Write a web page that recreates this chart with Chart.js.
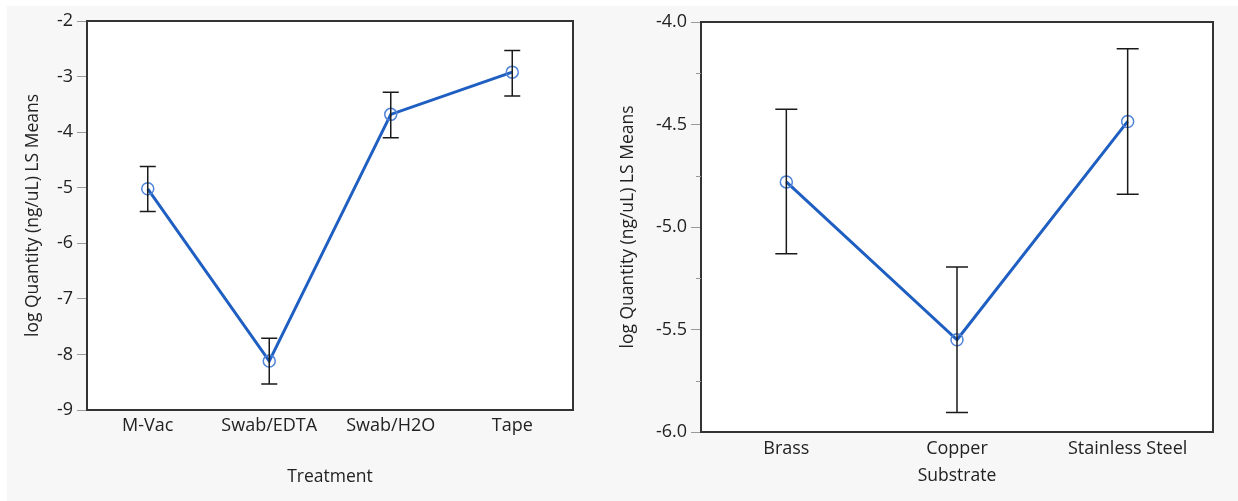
<!DOCTYPE html>
<html>
<head>
<meta charset="utf-8">
<script src="https://cdn.jsdelivr.net/npm/chart.js"></script>
<style>
  html, body { margin: 0; padding: 0; background: #ffffff; }
  body { width: 1238px; height: 501px; position: relative; overflow: hidden; }
  #bg { position: absolute; left: 7px; top: 6px; right: 0; bottom: 0; background: #f7f7f7; }
  .panel { position: absolute; top: 0; height: 501px; }
  #leftPanel { left: 0; width: 612px; }
  #rightPanel { left: 612px; width: 626px; }
</style>
</head>
<body>
<div id="bg"></div>
<div class="panel" id="leftPanel"><canvas id="leftChart"></canvas></div>
<div class="panel" id="rightPanel"><canvas id="rightChart"></canvas></div>
<script>
// Left panel: Treatment
const treatments = ['M-Vac', 'Swab/EDTA', 'Swab/H2O', 'Tape'];
const treatmentMeans = [-5.02, -8.12, -3.68, -2.92];
const treatmentLower = [-5.43, -8.53, -4.10, -3.35];
const treatmentUpper = [-4.62, -7.71, -3.28, -2.53];

// Right panel: Substrate
const substrates = ['Brass', 'Copper', 'Stainless Steel'];
const substrateMeans = [-4.78, -5.55, -4.485];
const substrateLower = [-5.13, -5.905, -4.84];
const substrateUpper = [-4.425, -5.195, -4.13];

const FONT = "'Open Sans', 'Noto Sans', sans-serif";
const TEXT = '#222222';
const LINE_BLUE = '#1f5fc1';
const MARK_BLUE = '#4f83d8';
const TICK_SIZE = 18;
const TITLE_SIZE = 17.5;

Chart.defaults.font.family = FONT;
Chart.defaults.color = TEXT;

// white plot area with a dark frame
const plotFrame = {
    id: 'plotFrame',
    beforeDraw(chart) {
        const { ctx, chartArea: a } = chart;
        ctx.save();
        ctx.fillStyle = '#ffffff';
        ctx.fillRect(a.left, a.top, a.width, a.height);
        ctx.restore();
    },
    afterDraw(chart) {
        const { ctx, chartArea: a } = chart;
        ctx.save();
        ctx.strokeStyle = '#333333';
        ctx.lineWidth = 2;
        ctx.strokeRect(a.left, a.top, a.width, a.height);
        ctx.restore();
    }
};

// error bars, drawn through the scales
const errorBars = {
    id: 'errorBars',
    afterDatasetsDraw(chart, args, opts) {
        const { ctx } = chart;
        const x = chart.scales.x, y = chart.scales.y;
        ctx.save();
        ctx.strokeStyle = '#1a1a1a';
        ctx.lineWidth = 1.5;
        opts.lower.forEach((lo, i) => {
            const px = x.getPixelForValue(i);
            const yLo = y.getPixelForValue(lo);
            const yHi = y.getPixelForValue(opts.upper[i]);
            ctx.beginPath();
            ctx.moveTo(px, yLo);
            ctx.lineTo(px, yHi);
            ctx.moveTo(px - opts.cap, yLo);
            ctx.lineTo(px + opts.cap, yLo);
            ctx.moveTo(px - opts.cap, yHi);
            ctx.lineTo(px + opts.cap, yHi);
            ctx.stroke();
        });
        ctx.restore();
    }
};

// short minor ticks between the labelled ones
const minorTicks = {
    id: 'minorTicks',
    afterDraw(chart, args, opts) {
        if (!opts.every) return;
        const { ctx, chartArea: a } = chart;
        const y = chart.scales.y;
        ctx.save();
        ctx.strokeStyle = '#999999';
        ctx.lineWidth = 1;
        y.ticks.forEach(t => {
            if (isMajor(t.value, opts.every)) return;
            const py = Math.round(y.getPixelForValue(t.value)) + 0.5;
            ctx.beginPath();
            ctx.moveTo(a.left - 5, py);
            ctx.lineTo(a.left, py);
            ctx.stroke();
        });
        ctx.restore();
    }
};

function isMajor(v, every) {
    const r = v / every;
    return Math.abs(r - Math.round(r)) < 1e-6;
}

function makeChart(id, cfg) {
    const el = document.getElementById(id);
    return new Chart(el, {
        type: 'line',
        data: {
            labels: cfg.labels,
            datasets: [{
                data: cfg.means,
                borderColor: LINE_BLUE,
                borderWidth: 3,
                pointStyle: 'circle',
                pointRadius: 6,
                pointBorderWidth: 1.5,
                pointBorderColor: MARK_BLUE,
                pointBackgroundColor: 'rgba(255,255,255,0)',
                tension: 0,
            }]
        },
        plugins: [plotFrame, errorBars, minorTicks],
        options: {
            responsive: true,
            maintainAspectRatio: false,
            animation: false,
            events: [],
            layout: { padding: cfg.padding },
            plugins: {
                legend: { display: false },
                tooltip: { enabled: false },
                errorBars: { lower: cfg.lower, upper: cfg.upper, cap: cfg.cap },
                minorTicks: { every: cfg.majorEvery },
            },
            scales: {
                x: {
                    type: 'category',
                    offset: true,
                    grid: { display: false, drawTicks: false },
                    border: { display: false },
                    ticks: { font: { size: TICK_SIZE }, color: TEXT, padding: cfg.xTickPad, maxRotation: 0, autoSkip: false },
                    title: { display: true, text: cfg.xTitle, font: { size: TITLE_SIZE }, color: TEXT, padding: { top: 0, bottom: cfg.xTitlePad } },
                    afterFit: s => { s.height = cfg.xHeight; }
                },
                y: {
                    min: cfg.yMin,
                    max: cfg.yMax,
                    grid: {
                        drawOnChartArea: false,
                        drawTicks: true,
                        tickLength: 10,
                        tickColor: c => (c.tick && isMajor(c.tick.value, cfg.majorEvery)) ? '#999999' : 'rgba(0,0,0,0)',
                    },
                    border: { display: false },
                    ticks: {
                        stepSize: cfg.step,
                        font: { size: TICK_SIZE },
                        color: TEXT,
                        padding: 4,
                        callback: v => isMajor(v, cfg.majorEvery) ? v.toFixed(cfg.decimals) : '',
                    },
                    title: { display: true, text: 'log Quantity (ng/uL) LS Means', font: { size: TITLE_SIZE }, color: TEXT, padding: { top: cfg.yTitlePad, bottom: 0 } },
                    afterFit: s => { s.width = cfg.yWidth; }
                }
            }
        }
    });
}

makeChart('leftChart', {
    labels: treatments, means: treatmentMeans, lower: treatmentLower, upper: treatmentUpper,
    cap: 8, yMin: -9, yMax: -2, step: 1, majorEvery: 1, decimals: 0,
    padding: { top: 21, right: 39, left: 0, bottom: 0 },
    yWidth: 87, xHeight: 91, xTickPad: 5, xTitle: 'Treatment', xTitlePad: 13, yTitlePad: 23,
});

makeChart('rightChart', {
    labels: substrates, means: substrateMeans, lower: substrateLower, upper: substrateUpper,
    cap: 11, yMin: -6, yMax: -4, step: 0.25, majorEvery: 0.5, decimals: 1,
    padding: { top: 22, right: 25, left: 0, bottom: 0 },
    yWidth: 89, xHeight: 69, xTickPad: 6, xTitle: 'Substrate', xTitlePad: 14, yTitlePad: 6,
});
</script>
</body>
</html>
